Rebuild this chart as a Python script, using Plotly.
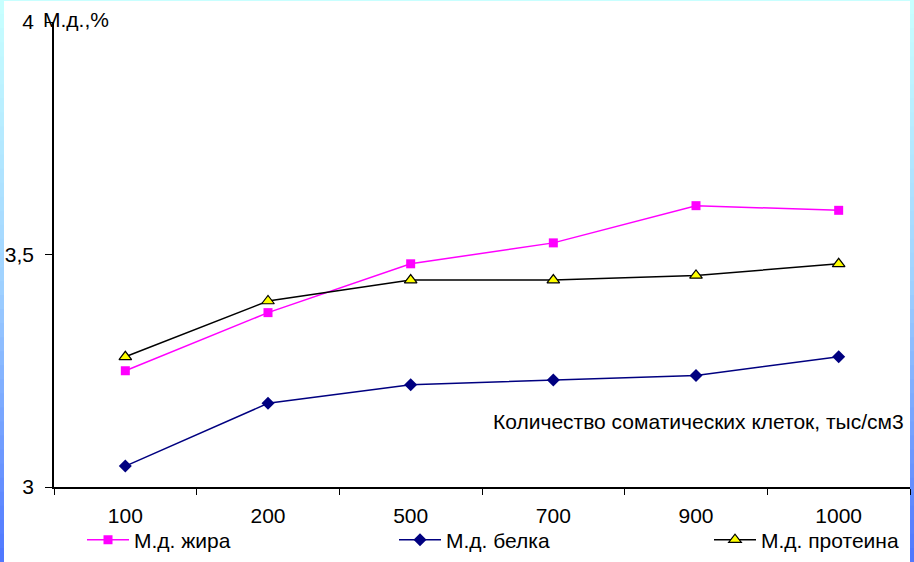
import plotly.graph_objects as go

categories = ["100", "200", "500", "700", "900", "1000"]
fat = [3.25, 3.375, 3.48, 3.525, 3.605, 3.595]
belok = [3.045, 3.18, 3.22, 3.23, 3.24, 3.28]
protein = [3.28, 3.40, 3.445, 3.445, 3.455, 3.48]
ytick_vals = [3, 3.5, 4]
ytick_text = ["3", "3,5", "4"]

W, H = 914, 562
L, R, T, B = 54, 4, 22, 75
pw, ph = W - L - R, H - T - B

font = dict(family="Liberation Sans, Arial, sans-serif", size=21, color="black")

fig = go.Figure()
fig.add_trace(go.Scatter(x=categories, y=fat, name="М.д. жира", mode="lines+markers",
                         legend="legend",
                         line=dict(color="#ff00ff", width=1.5),
                         marker=dict(symbol="square", size=9, color="#ff00ff")))
fig.add_trace(go.Scatter(x=categories, y=belok, name="М.д. белка", mode="lines+markers",
                         legend="legend2",
                         line=dict(color="#000080", width=1.5),
                         marker=dict(symbol="diamond", size=10, color="#000080")))
fig.add_trace(go.Scatter(x=categories, y=protein, name="М.д. протеина", mode="lines+markers",
                         legend="legend3",
                         line=dict(color="black", width=1.5),
                         marker=dict(symbol="triangle-up", size=11, color="#ffff00",
                                     line=dict(color="black", width=1.2))))

def px_x(p):
    return (p - L) / pw

def px_y(p):
    return (H - B - p) / ph

shapes = []
n = 40
def lerp(c1, c2, t):
    return "rgb(%d,%d,%d)" % tuple(round(a + (b - a) * t) for a, b in zip(c1, c2))
top_c, mid_c, bot_c = (200, 255, 255), (160, 210, 255), (80, 120, 255)
for i in range(n):
    t = i / (n - 1)
    if t < 0.5:
        col = lerp(top_c, mid_c, t / 0.5)
    else:
        col = lerp(mid_c, bot_c, (t - 0.5) / 0.5)
    y0p = H * i / n
    y1p = H * (i + 1) / n + 1
    for x0p, x1p in [(0, 4), (910, 914)]:
        shapes.append(dict(type="rect", xref="paper", yref="paper",
                           x0=px_x(x0p), x1=px_x(x1p), y0=px_y(y1p), y1=px_y(y0p),
                           fillcolor=col, line=dict(width=0), layer="below"))
shapes.append(dict(type="rect", xref="paper", yref="paper",
                   x0=px_x(0), x1=px_x(914), y0=px_y(1), y1=px_y(0),
                   fillcolor="rgb(200,255,255)", line=dict(width=0), layer="below"))

def leg(xp):
    return dict(orientation="h", x=px_x(xp), y=px_y(540), xanchor="left", yanchor="middle",
                font=font, bgcolor="rgba(0,0,0,0)", itemwidth=42, borderwidth=0)

fig.update_layout(
    width=W, height=H,
    margin=dict(l=L, r=R, t=T, b=B, autoexpand=False),
    paper_bgcolor="white", plot_bgcolor="white",
    font=font,
    shapes=shapes,
    showlegend=True,
    legend=leg(82),
    legend2=leg(394),
    legend3=leg(709),
    xaxis=dict(type="category", range=[-0.5, 5.5], showline=True, linecolor="black",
               linewidth=1.5, ticks="outside", tickson="boundaries", ticklen=6,
               tickcolor="black", showgrid=False, zeroline=False, ticklabelstandoff=9,
               tickfont=font, automargin=False),
    yaxis=dict(range=[3, 4], tickvals=ytick_vals, ticktext=ytick_text, showline=True,
               linecolor="black", linewidth=1.5, ticks="outside", ticklen=7,
               tickcolor="black", showgrid=False, zeroline=False, ticklabelstandoff=7,
               tickfont=font, automargin=False),
    annotations=[
        dict(text="М.д.,%", xref="paper", yref="paper", x=px_x(41), y=px_y(20),
             xanchor="left", yanchor="middle", showarrow=False, font=font),
        dict(text="Количество соматических клеток, тыс/см3", xref="paper", yref="paper",
             x=px_x(906), y=px_y(421), xanchor="right", yanchor="middle",
             showarrow=False, font=font),
    ],
)

fig.write_html("out.html")
